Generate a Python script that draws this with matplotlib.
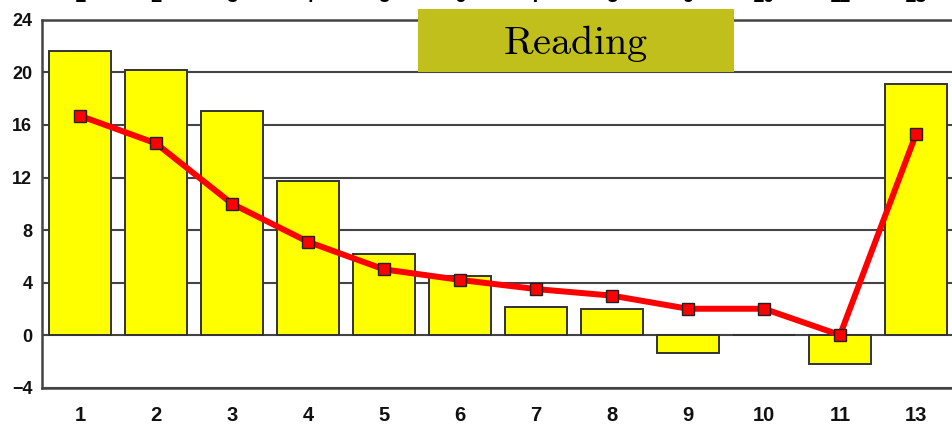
import matplotlib.pyplot as plt
import matplotlib.transforms as mtransforms
from matplotlib.patches import Rectangle
import numpy as np

# categorias e valores
categorias = ["1", "2", "3", "4", "5", "6", "7", "8", "9", "10", "11", "13"]
barras = [21.6, 20.2, 17.1, 11.7, 6.2, 4.5, 2.1, 2.0, -1.4, 0.0, -2.2, 19.1]
linha = [16.7, 14.6, 10.0, 7.1, 5.0, 4.2, 3.5, 3.0, 2.0, 2.0, 0.0, 15.3]
yticks = [-4, 0, 4, 8, 12, 16, 20, 24]

plt.rcParams['mathtext.fontset'] = 'cm'

fig = plt.figure(figsize=(9.52, 4.29), dpi=100)
ax = fig.add_axes([0.0441, 0.0967, 0.958, 0.8567])

x = np.arange(len(categorias))
ax.bar(x, barras, width=0.81, color="#ffff00", edgecolor="#333333", linewidth=1.4, zorder=2)
ax.plot(x, linha, color="#ff0000", linewidth=4.3, marker="s", markersize=8.2,
        markerfacecolor="#ff0000", markeredgecolor="#222222", markeredgewidth=1.0, zorder=3)

ax.set_xlim(-0.5, len(categorias) - 0.5)
ax.set_ylim(-4, 24)
ax.set_yticks(yticks)
ax.set_xticks(x)
ax.set_xticklabels(categorias)
ax.yaxis.grid(True, color="#444444", linewidth=1.5, zorder=0)
ax.set_axisbelow(True)

for s in ["left", "top", "bottom", "right"]:
    ax.spines[s].set_color("#444444")
    ax.spines[s].set_linewidth(1.8)

ax.tick_params(axis="y", length=0, pad=7, labelsize=13)
ax.tick_params(axis="x", length=0, pad=13, labelsize=14.5)
for lbl in ax.get_xticklabels() + ax.get_yticklabels():
    lbl.set_fontfamily("Liberation Sans")
    lbl.set_fontweight("bold")
    lbl.set_color("#111111")

# rotulos cortados no topo da imagem
trans = mtransforms.blended_transform_factory(ax.transData, fig.transFigure)
for xi, c in zip(x, categorias):
    ax.text(xi, 1 - 2 / 429, c, transform=trans, ha="center", va="baseline",
            fontsize=14.5, fontweight="bold", family="Liberation Sans", clip_on=False)

# caixa "Reading"
fig.patches.append(Rectangle((0.439, 0.832), 0.332, 0.147, transform=fig.transFigure,
                             facecolor="#c0bf1c", edgecolor="none", zorder=5))
fig.text(0.605, 0.898, r"$\mathrm{Reading}$", ha="center", va="center", fontsize=29, zorder=6)

fig.savefig("out.png", dpi=100)
